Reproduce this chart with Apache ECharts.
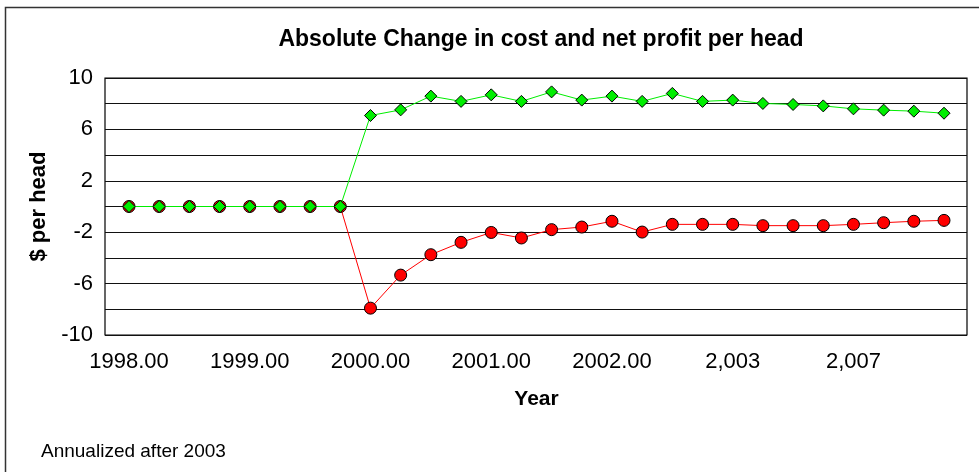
<!DOCTYPE html>
<html>

<head>
    <meta charset="utf-8">
    <title>Absolute Change</title>
    <script src="https://cdn.jsdelivr.net/npm/echarts@6/dist/echarts.min.js"></script>
</head>

<body style="margin:0;background:#fff;">

    <div id="chart" style="width: 979px;height: 472px;"></div>

    <script>
        // categories: quarterly up to 2002, then yearly (annualized after 2003)
        const years = ['1998.00', '1998.25', '1998.50', '1998.75',
            '1999.00', '1999.25', '1999.50', '1999.75',
            '2000.00', '2000.25', '2000.50', '2000.75',
            '2001.00', '2001.25', '2001.50', '2001.75',
            '2002.00', '2002.25', '2002.50', '2002.75',
            '2,003', '2,004', '2,005', '2,006', '2,007', '2,008', '2,009', '2,010'
        ];

        // green diamonds
        const profit = [0, 0, 0, 0, 0, 0, 0, 0,
            7.08, 7.52, 8.59, 8.18, 8.69, 8.18, 8.92, 8.28, 8.59, 8.18, 8.80, 8.18,
            8.28, 8.02, 7.94, 7.83, 7.60, 7.50, 7.42, 7.26
        ];

        // red circles
        const cost = [0, 0, 0, 0, 0, 0, 0, 0,
            -7.91, -5.34, -3.75, -2.79, -2.02, -2.45, -1.80, -1.60, -1.15, -1.99, -1.39, -1.39,
            -1.39, -1.49, -1.49, -1.49, -1.39, -1.26, -1.15, -1.08
        ];

        const font = 'Liberation Sans, Arial, Helvetica, sans-serif';

        const chart = echarts.init(document.getElementById('chart'));

        const option = {
            animation: false,
            backgroundColor: '#fff',
            textStyle: { fontFamily: font },
            title: [{
                text: 'Absolute Change in cost and net profit per head',
                left: 536,
                textAlign: 'center',
                top: 23,
                textStyle: { fontFamily: font, fontSize: 23, fontWeight: 'bold', color: '#000' }
            }, {
                text: 'Annualized after 2003',
                left: 36,
                top: 437,
                textStyle: { fontFamily: font, fontSize: 19, fontWeight: 'normal', color: '#000' }
            }],
            graphic: [{
                type: 'rect',
                shape: { x: 5.5, y: 7.5, width: 1000, height: 500 },
                style: { fill: null, stroke: '#333', lineWidth: 1.5 },
                silent: true
            }],
            grid: [{
                // frame and horizontal lines
                left: 105, right: 12, top: 78, bottom: 137,
                show: true, borderColor: '#000', borderWidth: 1.2
            }, {
                // data area, points inset from the frame
                left: 129, right: 35, top: 78, bottom: 137
            }],
            xAxis: [{
                gridIndex: 0, type: 'value', min: 0, max: 1, show: false
            }, {
                gridIndex: 1,
                type: 'category',
                data: years,
                boundaryGap: false,
                axisLine: { show: false },
                axisTick: { show: false },
                axisLabel: { interval: 3, fontSize: 22, color: '#000', margin: 16, fontFamily: font },
                name: 'Year',
                nameLocation: 'middle',
                nameGap: 54,
                nameTextStyle: { fontSize: 21, fontWeight: 'bold', color: '#000', fontFamily: font }
            }],
            yAxis: [{
                gridIndex: 0,
                type: 'value',
                min: -10, max: 10, interval: 2,
                axisLine: { show: false },
                axisTick: { show: false },
                splitLine: { lineStyle: { color: '#111', width: 1.2 } },
                axisLabel: {
                    fontSize: 22, color: '#000', margin: 12, fontFamily: font,
                    formatter: v => ((v + 10) % 4 === 0 ? String(v) : '')
                },
                name: '$ per head',
                nameLocation: 'middle',
                nameRotate: 90,
                nameGap: 55,
                nameTextStyle: { fontSize: 22, fontWeight: 'bold', color: '#000', fontFamily: font }
            }, {
                gridIndex: 1, type: 'value', min: -10, max: 10, show: false
            }],
            series: [{
                name: 'cost',
                type: 'line',
                xAxisIndex: 1, yAxisIndex: 1,
                data: cost,
                symbol: 'circle',
                symbolSize: 12,
                lineStyle: { color: '#ff0000', width: 1 },
                itemStyle: { color: '#ff0000', borderColor: '#000', borderWidth: 1 },
                z: 3
            }, {
                name: 'profit',
                type: 'line',
                xAxisIndex: 1, yAxisIndex: 1,
                data: profit,
                symbol: 'diamond',
                symbolSize: 12,
                lineStyle: { color: '#00ee00', width: 1 },
                itemStyle: { color: '#00ee00', borderColor: '#000', borderWidth: 1 },
                z: 4
            }]
        };

        chart.setOption(option);
    </script>

</body>

</html>
